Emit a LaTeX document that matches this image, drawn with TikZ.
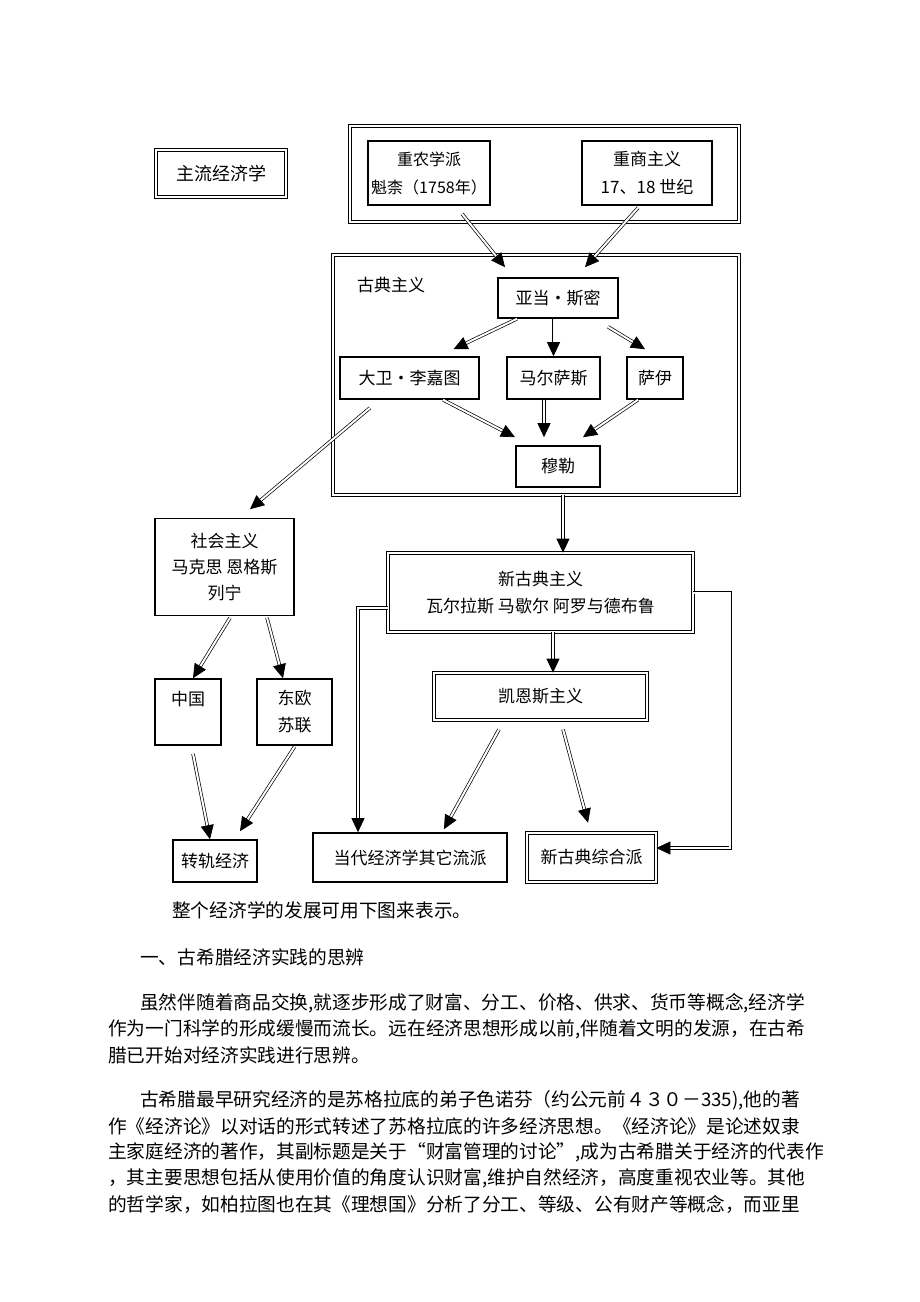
\documentclass[tikz,border=0pt]{standalone}
\usepackage{fontspec}
\setmainfont{Noto Sans CJK SC}
\usetikzlibrary{arrows.meta}

\begin{document}
\begin{tikzpicture}[x=1pt,y=-1pt,
        box/.style={draw, line width=1.6pt, align=center, inner sep=0pt, font=\fontsize{17}{27}\selectfont},
        dbox/.style={draw, double, double distance=1.8pt, line width=0.7pt, align=center, inner sep=0pt, font=\fontsize{17}{27}\selectfont},
        flow/.style={double, double distance=2pt, line width=0.7pt, -{Triangle[length=14pt,width=13pt]}},
        body/.style={anchor=west, inner sep=0pt, font=\fontsize{18.7}{24}\selectfont}]

        \useasboundingbox (0,0) rectangle (920,1302);

        %Mainstream label
        \node[dbox, minimum width=130, minimum height=47, font=\fontsize{18}{27}\selectfont] (mainstream) at (221,173.5) {主流经济学};

        %Early schools
        \node[dbox, minimum width=389, minimum height=96] (early) at (544.5,174) {};
        \node[box, minimum width=122, minimum height=64, font=\fontsize{16}{28}\selectfont] (physio) at (429,173) {重农学派\\魁柰（1758年）};
        \node[box, minimum width=130, minimum height=64, font=\fontsize{17}{28}\selectfont] (mercant) at (647,173) {重商主义\\17、18 世纪};

        %Classical school
        \node[dbox, minimum width=406, minimum height=240] (classical) at (536,375) {};
        \node[font=\fontsize{17}{27}\selectfont, inner sep=0pt] (classlabel) at (391,285) {古典主义};
        \node[box, minimum width=120, minimum height=40] (smith) at (558,298) {亚当·斯密};
        \node[box, minimum width=139, minimum height=42] (ricardo) at (409.5,378) {大卫·李嘉图};
        \node[box, minimum width=93, minimum height=42] (malthus) at (553.5,378) {马尔萨斯};
        \node[box, minimum width=56, minimum height=42] (say) at (655,378) {萨伊};
        \node[box, minimum width=84, minimum height=41] (mill) at (558,466.5) {穆勒};

        %Socialism branch
        \node[box, minimum width=139, minimum height=97, font=\fontsize{17}{26}\selectfont] (socialism) at (224.5,567) {社会主义\\马克思\ 恩格斯\\列宁};
        \node[box, minimum width=66, minimum height=66] (china) at (188,712) {中国\\~};
        \node[box, minimum width=75, minimum height=66] (east) at (294.5,712) {东欧\\苏联};
        \node[box, minimum width=84, minimum height=42] (transition) at (215,861) {转轨经济};

        %Neoclassical branch
        \node[dbox, minimum width=305, minimum height=79] (neo) at (540.5,592.5) {新古典主义\\瓦尔拉斯\ 马歇尔\ 阿罗与德布鲁};
        \node[dbox, minimum width=213, minimum height=47] (keynes) at (540.5,696.5) {凯恩斯主义};
        \node[box, minimum width=194, minimum height=49] (contemp) at (410,857.5) {当代经济学其它流派};
        \node[dbox, minimum width=129, minimum height=49] (synth) at (591.5,857.5) {新古典综合派};

        %Arrows into classical school
        \draw[flow] ([xshift=33pt,yshift=-8pt]physio.south) -- ([xshift=-53pt,yshift=10pt]smith.north);
        \draw[flow] ([xshift=-9pt,yshift=-2pt]mercant.south) -- ([xshift=27pt,yshift=10pt]smith.north);

        %Arrows inside classical school
        \draw[flow] ([xshift=-41pt]smith.south) -- ([xshift=44pt,yshift=7pt]ricardo.north);
        \draw[flow] (malthus.north |- smith.south) -- (malthus.north);
        \draw[flow] ([xshift=50pt,yshift=-8pt]smith.south) -- ([xshift=-10pt,yshift=7pt]say.north);
        \draw[flow] ([xshift=33.5pt]ricardo.south) -- ([xshift=-43pt,yshift=8pt]mill.north);
        \draw[flow] ([xshift=-9.5pt]malthus.south) -- ([xshift=-14pt,yshift=8pt]mill.north);
        \draw[flow] ([xshift=-17pt]say.south) -- ([xshift=25pt,yshift=8pt]mill.north);

        %Ricardo to socialism
        \draw[flow] ([xshift=-39.5pt,yshift=-8pt]ricardo.south) -- ([xshift=25.5pt,yshift=8.5pt]socialism.north);

        %Socialism branch arrows
        \draw[flow] ([xshift=5.5pt,yshift=-1.5pt]socialism.south) -- ([xshift=5pt]china.north);
        \draw[flow] ([xshift=42.5pt,yshift=-1.5pt]socialism.south) -- ([xshift=-11.5pt]east.north);
        \draw[flow] ([xshift=5pt,yshift=-8pt]china.south) -- ([xshift=-5pt]transition.north);
        \draw[flow] ([yshift=-1pt]east.south) -- ([xshift=25pt,yshift=8pt]transition.north);

        %Neoclassical branch arrows
        \draw[flow] ([xshift=27pt]classical.south) -- ([xshift=22.5pt]neo.north);
        \draw[flow] ([xshift=12.5pt]neo.south) -- ([xshift=12.5pt]keynes.north);
        \draw[flow] ([yshift=-15.5pt]neo.west) -| ([xshift=-52pt]contemp.north);
        \draw[flow] (neo.east) -- ([xshift=37pt]neo.east) |- ([yshift=9.5pt]synth.east);
        \draw[flow] ([xshift=-41.5pt,yshift=-9pt]keynes.south) -- ([xshift=34pt,yshift=3pt]contemp.north);
        \draw[flow] ([xshift=22.5pt,yshift=-9pt]keynes.south) -- ([xshift=-3.5pt,yshift=10pt]synth.north);

        %Text below the chart
        \node[body] (caption) at (172,910) {整个经济学的发展可用下图来表示。};
        \node[body] (heading) at (140,957) {一、古希腊经济实践的思辨};
        \node[body] (pa1) at (140,1003) {虽然伴随着商品交换,就逐步形成了财富、分工、价格、供求、货币等概念,经济学};
        \node[body] (pa2) at (108,1029) {作为一门科学的形成缓慢而流长。远在经济思想形成以前,伴随着文明的发源，在古希};
        \node[body] (pa3) at (108,1055) {腊已开始对经济实践进行思辨。};
        \node[body] (pb1) at (140,1100) {古希腊最早研究经济的是苏格拉底的弟子色诺芬（约公元前４３０－335),他的著};
        \node[body] (pb2) at (108,1126) {作《经济论》以对话的形式转述了苏格拉底的许多经济思想。《经济论》是论述奴隶};
        \node[body] (pb3) at (108,1152) {主家庭经济的著作，其副标题是关于“财富管理的讨论”,成为古希腊关于经济的代表作};
        \node[body] (pb4) at (108,1178) {，其主要思想包括从使用价值的角度认识财富,维护自然经济，高度重视农业等。其他};
        \node[body] (pb5) at (108,1204) {的哲学家，如柏拉图也在其《理想国》分析了分工、等级、公有财产等概念，而亚里};

    \end{tikzpicture}
\end{document}
